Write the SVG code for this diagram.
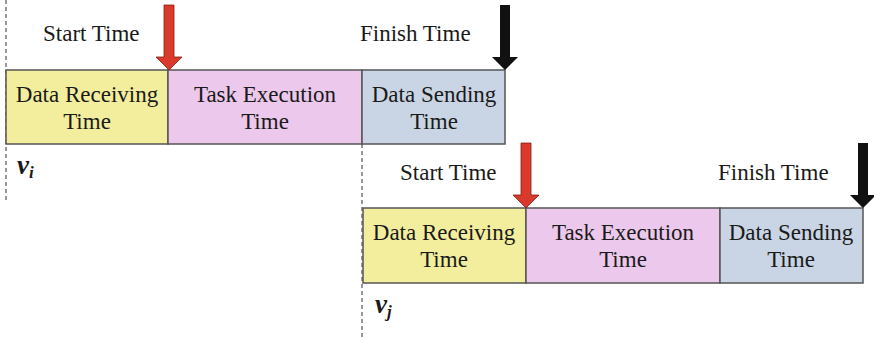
<svg xmlns="http://www.w3.org/2000/svg" width="874" height="338" viewBox="0 0 874 338">
  <style>
    .lbl { font-family: "Liberation Serif", "Times New Roman", serif; font-size: 23px; fill: #1a1a1a; }
    .mid { text-anchor: middle; }
    .node { font-family: "Liberation Serif", "Times New Roman", serif; font-size: 27px; font-weight: bold; font-style: italic; fill: #1a1a1a; }
    .box { stroke: #555; stroke-width: 1.5; }
    .recv { fill: #f3ee9e; }
    .exec { fill: #ecc8ec; }
    .send { fill: #c9d5e4; }
    .guide { stroke: #333; stroke-width: 1; stroke-dasharray: 4 3; fill: none; }
    .start { fill: #d93a2b; stroke: #8a1c12; stroke-width: 0.8; }
    .finish { fill: #111; }
  </style>
  <defs>
    <!-- down arrow with tip at origin -->
    <path id="downArrow" d="M -5 -65 L 5 -65 L 5 -13 L 13 -13 L 0 0 L -13 -13 L -5 -13 Z"/>
  </defs>

  <g id="connectors">
    <path class="guide" d="M 6 0 L 6 200"/>
    <path class="guide" d="M 362 144 L 362 338"/>
  </g>

  <g id="task-vi">
    <rect class="box recv" x="6" y="70" width="162" height="74"/>
    <rect class="box exec" x="168" y="70" width="194" height="74"/>
    <rect class="box send" x="362" y="70" width="143" height="74"/>
    <text class="lbl mid" x="87" y="102">Data Receiving</text>
    <text class="lbl mid" x="87" y="129">Time</text>
    <text class="lbl mid" x="265" y="102">Task Execution</text>
    <text class="lbl mid" x="265" y="129">Time</text>
    <text class="lbl mid" x="434" y="102">Data Sending</text>
    <text class="lbl mid" x="434" y="129">Time</text>
    <text class="lbl" x="43" y="41">Start Time</text>
    <text class="lbl" x="360" y="41">Finish Time</text>
    <use href="#downArrow" class="start" x="169" y="70"/>
    <use href="#downArrow" class="finish" x="505" y="70"/>
    <text class="node" x="17" y="174">v<tspan font-size="17" dy="4">i</tspan></text>
  </g>

  <g id="task-vj">
    <rect class="box recv" x="363" y="208" width="163" height="75"/>
    <rect class="box exec" x="526" y="208" width="194" height="75"/>
    <rect class="box send" x="720" y="208" width="143" height="75"/>
    <text class="lbl mid" x="444" y="240">Data Receiving</text>
    <text class="lbl mid" x="444" y="267">Time</text>
    <text class="lbl mid" x="623" y="240">Task Execution</text>
    <text class="lbl mid" x="623" y="267">Time</text>
    <text class="lbl mid" x="791" y="240">Data Sending</text>
    <text class="lbl mid" x="791" y="267">Time</text>
    <text class="lbl" x="400" y="180">Start Time</text>
    <text class="lbl" x="718" y="180">Finish Time</text>
    <use href="#downArrow" class="start" x="526" y="208"/>
    <use href="#downArrow" class="finish" x="863" y="208"/>
    <text class="node" x="375" y="313">v<tspan font-size="17" dy="4">j</tspan></text>
  </g>
</svg>
